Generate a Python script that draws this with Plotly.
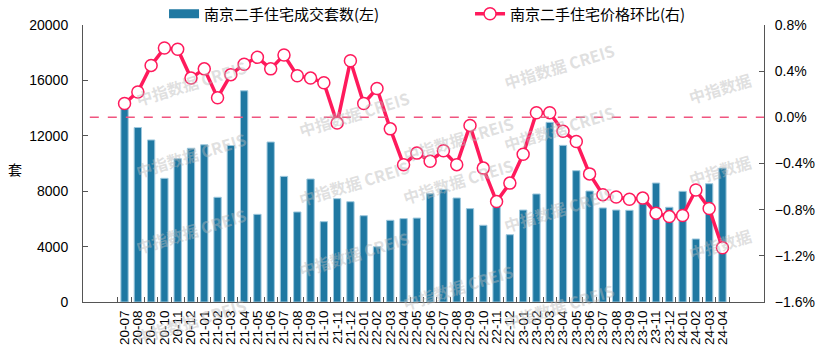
import plotly.graph_objects as go

months = ["20-07","20-08","20-09","20-10","20-11","20-12",
          "21-01","21-02","21-03","21-04","21-05","21-06","21-07","21-08","21-09","21-10","21-11","21-12",
          "22-01","22-02","22-03","22-04","22-05","22-06","22-07","22-08","22-09","22-10","22-11","22-12",
          "23-01","23-02","23-03","23-04","23-05","23-06","23-07","23-08","23-09","23-10","23-11","23-12",
          "24-01","24-02","24-03","24-04"]

volume = [14050, 12600, 11700, 8930, 10350, 11100,
          11350, 7560, 11300, 15250, 6330, 11550, 9070, 6500, 8880, 5800, 7460, 7240,
          6230, 3990, 5900, 6020, 6060, 7820, 8130, 7510, 6740, 5540, 7050, 4860,
          6640, 7800, 12970, 11310, 9480, 8010, 6790, 6640, 6620, 7100, 8590, 6840,
          7990, 4550, 8540, 9670]

mom = [0.12, 0.22, 0.45, 0.60, 0.59, 0.34,
       0.42, 0.17, 0.37, 0.46, 0.52, 0.42, 0.54, 0.36, 0.34, 0.30, -0.05, 0.49,
       0.12, 0.25, -0.10, -0.41, -0.31, -0.38, -0.29, -0.41, -0.07, -0.44, -0.73, -0.57,
       -0.32, 0.04, 0.04, -0.12, -0.21, -0.49, -0.67, -0.69, -0.71, -0.70, -0.83, -0.86,
       -0.85, -0.63, -0.79, -1.13]

bar_name = "南京二手住宅成交套数(左)"
line_name = "南京二手住宅价格环比(右)"
watermark = "中指数据 CREIS"

LINE_C = "#ff1a5c"
BAR_C = "#1f78a2"

fig = go.Figure()
fig.add_trace(go.Bar(x=months, y=volume, name=bar_name, showlegend=False,
                     marker=dict(color=BAR_C, line=dict(color="#9ec8dd", width=1)),
                     yaxis="y"))
# legend stand-in for the bar series (wide rectangle symbol)
fig.add_trace(go.Scatter(x=[None], y=[None], name=bar_name, mode="lines",
                         line=dict(color=BAR_C, width=9), yaxis="y"))
fig.add_trace(go.Scatter(x=months, y=mom, name=line_name, mode="lines+markers",
                         line=dict(color=LINE_C, width=3.5),
                         marker=dict(size=12, color="white", line=dict(color=LINE_C, width=1.5)),
                         yaxis="y2"))

fig.add_shape(type="line", xref="paper", yref="y2", x0=0.01, x1=1, y0=0, y1=0,
              line=dict(color="#f0557f", width=1.5, dash="dash"))

wm_pos = [(130, 52), (293, 83), (130, 155), (293, 183), (130, 262), (293, 285),
          (620, 35), (458, 108), (620, 128), (458, 212), (620, 240), (620, 337),
          (130, 352), (458, 318)]
W, H = 823, 361
L, R, T, B = 83, 59, 25, 59
pw, ph = W - L - R, H - T - B
for (px, py) in wm_pos:
    fig.add_annotation(x=(px - L) / pw, y=(H - B - py) / ph, xref="paper", yref="paper",
                       text=watermark, showarrow=False, textangle=-17,
                       font=dict(size=16, color="rgba(185,185,185,0.45)",
                                 family="Noto Sans CJK SC", weight="bold"))
for (px, py) in [(757, 65), (757, 170), (757, 267)]:
    fig.add_annotation(x=(px - L) / pw, y=(H - B - py) / ph, xref="paper", yref="paper",
                       text="中指数据", showarrow=False, textangle=-17,
                       font=dict(size=16, color="rgba(185,185,185,0.45)",
                                 family="Noto Sans CJK SC", weight="bold"))

fig.add_annotation(x=(15 - L) / pw, y=(H - B - 170) / ph, xref="paper", yref="paper",
                   xanchor="center", yanchor="middle",
                   text="套", showarrow=False, font=dict(size=14, color="#000"))

axis_common = dict(showgrid=False, zeroline=False, showline=True, linecolor="#555", linewidth=1,
                   ticks="inside", ticklen=5, tickcolor="#555", automargin=False,
                   tickfont=dict(size=14, color="#000", family="Liberation Sans"))

fig.update_layout(
    width=W, height=H,
    margin=dict(l=L, r=R, t=T, b=B, autoexpand=False),
    plot_bgcolor="white", paper_bgcolor="white",
    bargap=0.45,
    font=dict(family="Liberation Sans, Noto Sans CJK SC", color="#000"),
    xaxis=dict(type="category", tickangle=-90, tickson="boundaries", tickmode="array",
               tickvals=months, ticktext=months, ticklabelstandoff=2,
               **{**axis_common, "tickfont": dict(size=13.5, color="#000", family="Liberation Sans")}),
    yaxis=dict(range=[0, 20000], dtick=4000, tickformat="d", ticklabelstandoff=11, **axis_common),
    yaxis2=dict(range=[-1.6, 0.8], dtick=0.4, tickformat=".1f", ticksuffix="%",
                ticklabelstandoff=7, overlaying="y", side="right", **axis_common),
    legend=dict(orientation="h", x=0.119, xanchor="left", y=1.04, yanchor="middle",
                bgcolor="rgba(0,0,0,0)", entrywidth=261, entrywidthmode="pixels",
                font=dict(size=15, family="Noto Sans CJK SC", color="#000"),
                itemwidth=30),
    showlegend=True,
)

fig.write_html("out.html", config={"displayModeBar": False},
               post_script="document.body.style.margin='0';")
